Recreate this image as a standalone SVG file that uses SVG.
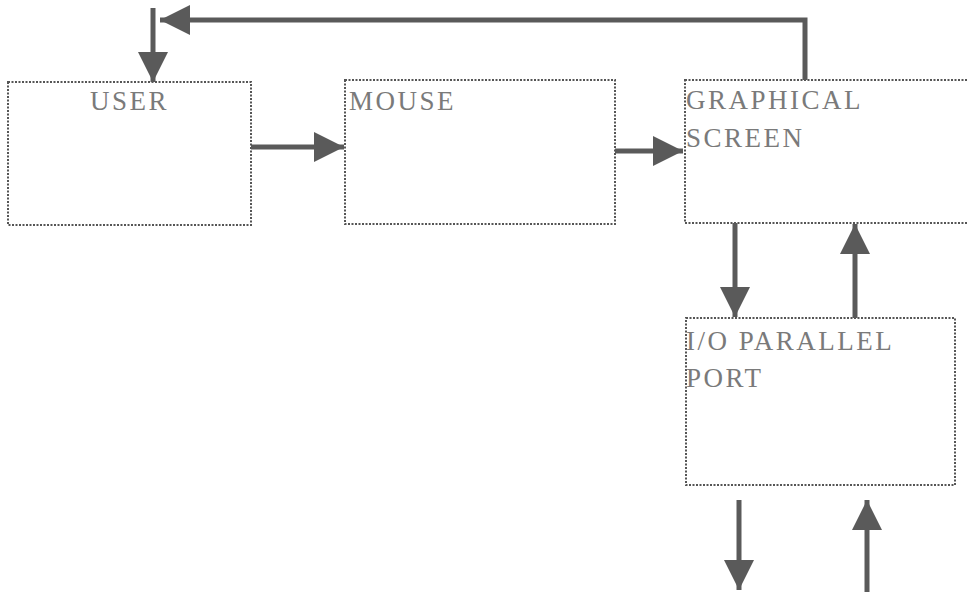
<svg xmlns="http://www.w3.org/2000/svg" width="967" height="592" viewBox="0 0 967 592">
<style>
.box{fill:#fff;stroke:#555;stroke-width:2;stroke-dasharray:2 1.5}
.lbl{font-family:"Liberation Serif","Times New Roman",serif;font-size:27px;letter-spacing:2.5px;fill:#7a7a7a}
.con{fill:none;stroke:#5a5a5a;stroke-width:5;marker-end:url(#ah)}
</style>
<defs>
<marker id="ah" markerUnits="userSpaceOnUse" markerWidth="32" markerHeight="32" refX="30" refY="15" orient="auto">
<path d="M0,0 L30,15 L0,30 z" fill="#5a5a5a"/>
</marker>
</defs>
<rect width="967" height="592" fill="#fff"/>
<g id="user"><rect class="box" x="8" y="82" width="243" height="143"/><text class="lbl" x="90" y="110">USER</text></g>
<g id="mouse"><rect class="box" x="345" y="80" width="270" height="144"/><text class="lbl" x="349" y="110">MOUSE</text></g>
<g id="screen"><rect class="box" x="685" y="80" width="290" height="143"/><text class="lbl" x="686" y="109">GRAPHICAL</text><text class="lbl" x="686" y="147">SCREEN</text></g>
<g id="port"><rect class="box" x="686" y="318" width="269" height="167"/><text class="lbl" x="686" y="350">I/O PARALLEL</text><text class="lbl" x="686" y="387">PORT</text></g>
<g id="connectors">
<path class="con" d="M805,80 V20 H160"/>
<path class="con" d="M153,8 V82"/>
<path class="con" d="M251,147 H344"/>
<path class="con" d="M615,151 H683"/>
<path class="con" d="M735,223 V317"/>
<path class="con" d="M855,318 V224"/>
<path class="con" d="M739,500 V590"/>
<path class="con" d="M867,592 V500"/>
</g>
</svg>
